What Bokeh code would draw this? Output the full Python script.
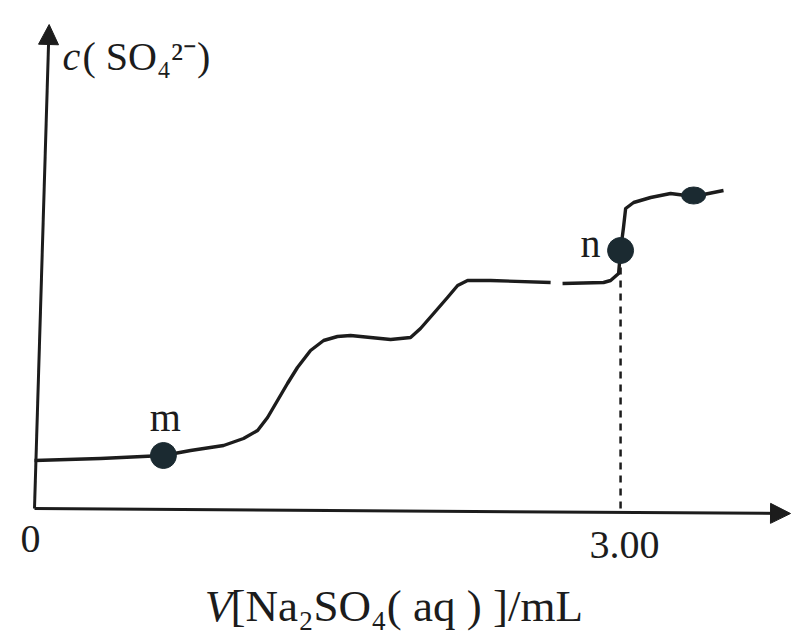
from bokeh.plotting import figure
from bokeh.models import Range1d, Arrow, NormalHead
from bokeh.core.properties import value
from bokeh.embed import file_html
from bokeh.resources import INLINE

# ---- data (x: V[Na2SO4(aq)] in mL, y: relative c(SO4 2-)) ----
curve1_x = [0.000, 0.338, 0.660, 0.799, 0.968, 1.070, 1.142, 1.193, 1.244, 1.295,
            1.346, 1.413, 1.480, 1.551, 1.618, 1.720, 1.823, 1.925, 1.976, 2.043,
            2.114, 2.166, 2.217, 2.335, 2.642]
curve1_y = [0.48, 0.50, 0.53, 0.58, 0.63, 0.70, 0.78, 0.91, 1.08, 1.25,
            1.41, 1.58, 1.68, 1.72, 1.73, 1.71, 1.69, 1.71, 1.80, 1.95,
            2.11, 2.23, 2.28, 2.28, 2.26]
curve2_x = [2.703, 2.913, 2.949, 2.990, 3.000, 3.015, 3.026, 3.067, 3.154, 3.256, 3.374, 3.527]
curve2_y = [2.25, 2.26, 2.28, 2.35, 2.58, 2.81, 3.00, 3.06, 3.11, 3.15, 3.12, 3.18]

point_names = ["m", "n"]
point_x = [0.660, 3.000]
point_y = [0.53, 2.58]

end_dot_x = [3.374]
end_dot_y = [3.13]

tick_values = [0.0, 3.0]
tick_labels = ["0", "3.00"]

x_label_italic = "V"
x_label_rest = "[Na\u2082SO\u2084( aq ) ]/mL"
y_label_italic = "c"
y_label_rest = "( SO\u2084\u00b2\u207b)"

# axis extents (data units); the scanned axes lean slightly
X_AXIS_END = (3.870, -0.05)
Y_AXIS_END = (0.075, 4.84)

INK = "#1c1c1c"
DOT = "#1b2a31"
SERIF = value("Liberation Serif")

p = figure(width=791, height=631, output_backend="svg", toolbar_location=None,
           x_range=Range1d(-0.174, 3.875), y_range=Range1d(-1.23, 5.08),
           min_border=0, x_axis_type=None, y_axis_type=None)
p.outline_line_color = None
p.grid.visible = False
p.background_fill_color = "white"
p.border_fill_color = "white"

# axes with arrow heads
p.add_layout(Arrow(end=NormalHead(size=20, fill_color=INK, line_color=INK, line_width=1),
                   x_start=0, y_start=0, x_end=X_AXIS_END[0], y_end=X_AXIS_END[1],
                   line_color=INK, line_width=3))
p.add_layout(Arrow(end=NormalHead(size=20, fill_color=INK, line_color=INK, line_width=1),
                   x_start=0, y_start=0, x_end=Y_AXIS_END[0], y_end=Y_AXIS_END[1],
                   line_color=INK, line_width=3))

# dashed guide at n
p.segment(x0=[point_x[1]], y0=[0], x1=[point_x[1]], y1=[point_y[1]],
          line_color=INK, line_width=2.5, line_dash="7 6")

# curve
p.line(curve1_x, curve1_y, line_color=INK, line_width=3.4, line_join="round")
p.line(curve2_x, curve2_y, line_color=INK, line_width=3.4, line_join="round")

# points
p.scatter(point_x, point_y, size=26, fill_color=DOT, line_color=DOT)
p.ellipse(end_dot_x, end_dot_y, width=24, height=17, width_units="screen",
          height_units="screen", fill_color=DOT, line_color=DOT)

# point labels
p.text(x=[point_x[0]], y=[point_y[0]], text=[point_names[0]], y_offset=-38, x_offset=2,
       text_align="center", text_baseline="middle", text_font=SERIF,
       text_font_size="40px", text_color=INK)
p.text(x=[point_x[1]], y=[point_y[1]], text=[point_names[1]], y_offset=-7, x_offset=-30,
       text_align="center", text_baseline="middle", text_font=SERIF,
       text_font_size="40px", text_color=INK)

# tick labels
p.text(x=[tick_values[0]], y=[0], text=[tick_labels[0]], y_offset=30, x_offset=-4,
       text_align="center", text_baseline="middle", text_font=SERIF,
       text_font_size="40px", text_color=INK)
p.text(x=[tick_values[1]], y=[0], text=[tick_labels[1]], y_offset=36, x_offset=4,
       text_align="center", text_baseline="middle", text_font=SERIF,
       text_font_size="40px", text_color=INK)

# axis titles
p.text(x=[0.189], y=[4.52], text=[y_label_italic], text_font=SERIF, text_font_style="italic",
       text_font_size="40px", text_align="center", text_baseline="middle", text_color=INK)
p.text(x=[0.246], y=[4.52], text=[y_label_rest], text_font=SERIF,
       text_font_size="40px", text_align="left", text_baseline="middle", text_color=INK)
p.text(x=[0.942], y=[-0.97], text=[x_label_italic], text_font=SERIF, text_font_style="italic",
       text_font_size="45px", text_align="center", text_baseline="middle", text_color=INK)
p.text(x=[1.003], y=[-0.97], text=[x_label_rest], text_font=SERIF,
       text_font_size="45px", text_align="left", text_baseline="middle", text_color=INK)

open("out.html", "w").write(file_html(p, INLINE))
